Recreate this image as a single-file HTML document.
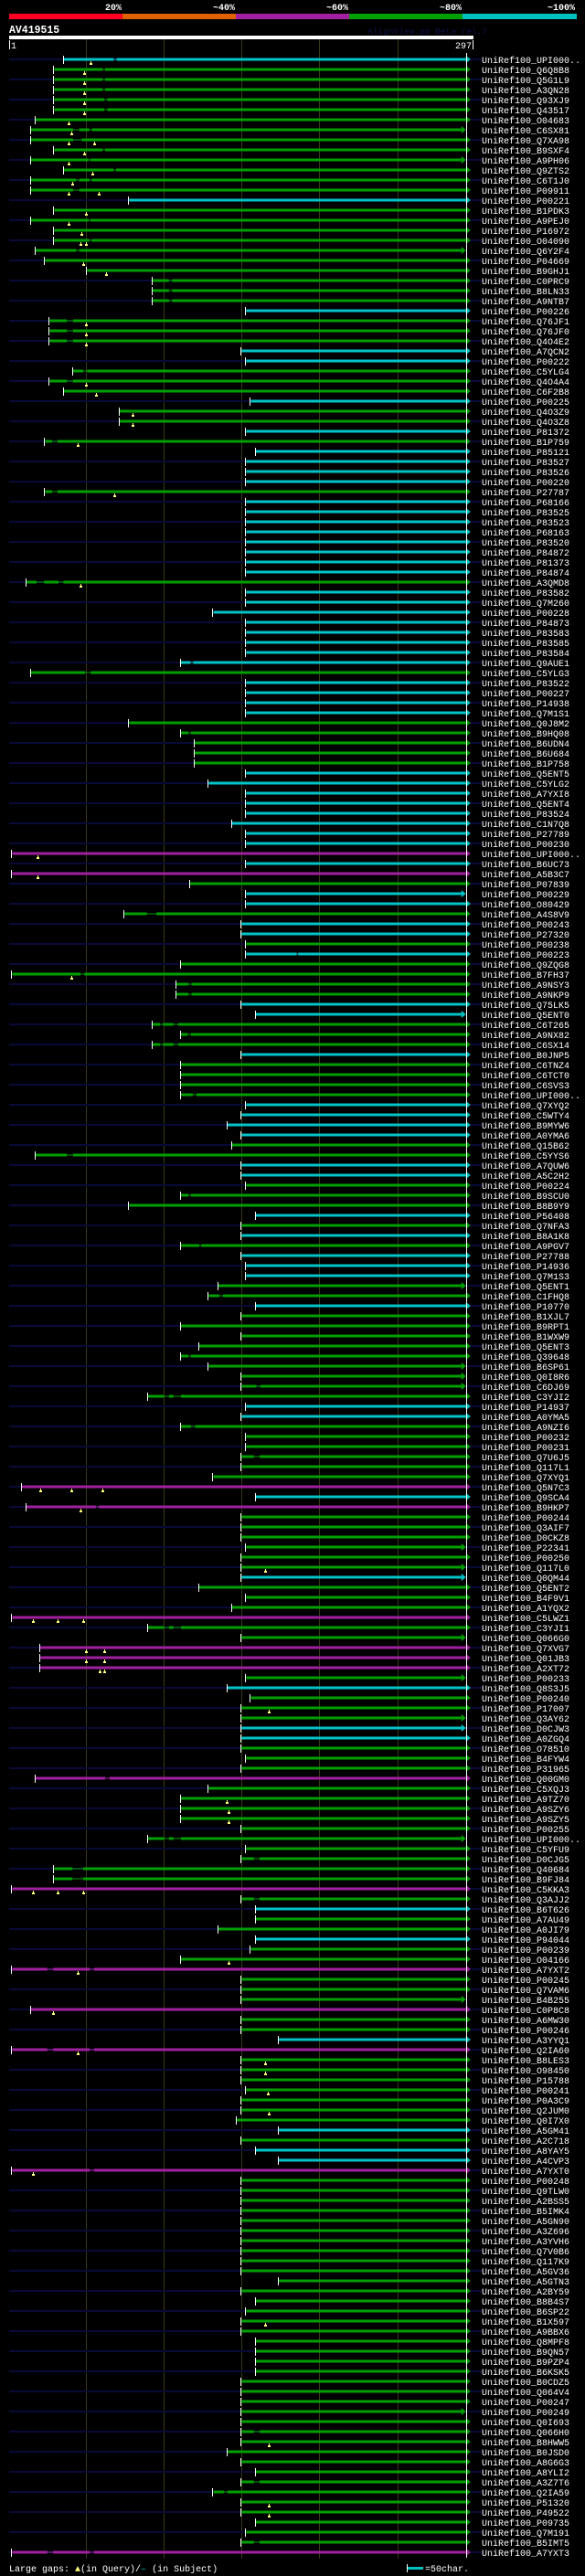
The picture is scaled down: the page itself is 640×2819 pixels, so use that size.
<!DOCTYPE html>
<html><head><meta charset="utf-8"><title>AV419515 alignment</title>
<style>
html,body{margin:0;padding:0;background:#000;}
body{width:640px;height:2819px;overflow:hidden;}
svg{display:block;}
text{font-family:"Liberation Mono",monospace;}
</style></head>
<body>
<svg id="chart" width="640" height="2819" viewBox="0 0 640 2819" xmlns="http://www.w3.org/2000/svg">
  <rect x="0" y="0" width="640" height="2819" fill="#000"/>
  <g>
    <rect x="10" y="15" width="124" height="6" fill="#ff0022"/>
    <rect x="134" y="15" width="124" height="6" fill="#e06000"/>
    <rect x="258" y="15" width="124" height="6" fill="#a020a0"/>
    <rect x="382" y="15" width="124" height="6" fill="#00a000"/>
    <rect x="506" y="15" width="125" height="6" fill="#00c0c0"/>
    <text x="133" y="11" fill="#fff" font-size="10" font-weight="bold" text-anchor="end">20%</text>
    <text x="257" y="11" fill="#fff" font-size="10" font-weight="bold" text-anchor="end">~40%</text>
    <text x="381" y="11" fill="#fff" font-size="10" font-weight="bold" text-anchor="end">~60%</text>
    <text x="505" y="11" fill="#fff" font-size="10" font-weight="bold" text-anchor="end">~80%</text>
    <text x="629" y="11" fill="#fff" font-size="10" font-weight="bold" text-anchor="end">~100%</text>
  </g>
  <text x="10" y="36" fill="#fff" font-size="11.5" font-weight="bold">AV419515</text>
  <text x="402" y="37" fill="#101048" font-size="9.5">AlignView.pm Beta rel.7</text>
  <rect x="10" y="39" width="508" height="4" fill="#fff"/>
  <rect x="10" y="44" width="1" height="10" fill="#fff"/>
  <text x="12" y="53" fill="#fff" font-size="10">1</text>
  <rect x="517" y="44" width="1" height="10" fill="#fff"/>
  <text x="516" y="53" fill="#fff" font-size="10" text-anchor="end">297</text>
  <g id="grid"></g>
  <g id="rows"></g>
  <g>
    <text x="10" y="2814" fill="#fff" font-size="10">Large gaps: <tspan fill="#ffff80">▲</tspan>(in Query)/<tspan fill="#00c0c0">–</tspan> (in Subject)</text>
    <rect x="445" y="2806" width="1" height="9" fill="#fff"/>
    <rect x="446" y="2809" width="17" height="3" fill="#00c0c0"/>
    <text x="465" y="2814" fill="#fff" font-size="10">=50char.</text>
  </g>
</svg>
<script>
const rowNames = [
"UPI000..","Q6Q8B8","Q5G1L9","A3QN28","Q93XJ9","Q43517","O04683","C6SX81","Q7XA98","B9SXF4",
"A9PH06","Q9ZTS2","C6T1J0","P09911","P00221","B1PDK3","A9PEJ0","P16972","O04090","Q6Y2F4",
"P04669","B9GHJ1","C0PRC9","B8LN33","A9NTB7","P00226","Q76JF1","Q76JF0","Q4O4E2","A7QCN2",
"P00222","C5YLG4","Q4O4A4","C6F2B8","P00225","Q4O3Z9","Q4O3Z8","P81372","B1P759","P85121",
"P83527","P83526","P00220","P27787","P68166","P83525","P83523","P68163","P83520","P84872",
"P81373","P84874","A3QMD8","P83582","Q7M260","P00228","P84873","P83583","P83585","P83584",
"Q9AUE1","C5YLG3","P83522","P00227","P14938","Q7M1S1","Q0J8M2","B9HQ08","B6UDN4","B6U684",
"B1P758","Q5ENT5","C5YLG2","A7YXI8","Q5ENT4","P83524","C1N7Q8","P27789","P00230","UPI000..",
"B6UC73","A5B3C7","P07839","P00229","O80429","A4S8V9","P00243","P27320","P00238","P00223",
"Q9ZQG8","B7FH37","A9NSY3","A9NKP9","Q75LK5","Q5ENT0","C6T265","A9NX82","C6SX14","B0JNP5",
"C6TNZ4","C6TCT0","C6SVS3","UPI000..","Q7XYQ2","C5WTY4","B9MYW6","A0YMA6","Q15B62","C5YYS6",
"A7QUW6","A5C2H2","P00224","B9SCU0","B8B9Y9","P56408","Q7NFA3","B8A1K8","A9PGV7","P27788",
"P14936","Q7M1S3","Q5ENT1","C1FHQ8","P10770","B1XJL7","B9RPT1","B1WXW9","Q5ENT3","Q39648",
"B6SP61","Q0I8R6","C6DJ69","C3YJI2","P14937","A0YMA5","A9NZI6","P00232","P00231","Q7U6J5",
"Q117L1","Q7XYQ1","Q5N7C3","Q9SCA4","B9HKP7","P00244","Q3AIF7","D0CKZ8","P22341","P00250",
"Q117L0","Q0QM44","Q5ENT2","B4F9V1","A1YQX2","C5LWZ1","C3YJI1","Q066G0","Q7XVG7","Q01JB3",
"A2XT72","P00233","Q8S3J5","P00240","P17007","Q3AY62","D0CJW3","A0ZGQ4","O78510","B4FYW4",
"P31965","Q00GM0","C5XQJ3","A9TZ70","A9SZY6","A9SZY5","P00255","UPI000..","C5YFU9","D0CJG5",
"Q40684","B9FJ84","C5KKA3","Q3AJJ2","B6T626","A7AU49","A0JI79","P94044","P00239","O04166",
"A7YXT2","P00245","Q7VAM6","B4B255","C0P8C8","A6MW30","P00246","A3YYQ1","Q2IA60","B8LES3",
"O98450","P15788","P00241","P0A3C9","Q2JUM0","Q0I7X0","A5GM41","A2C718","A8YAY5","A4CVP3",
"A7YXT0","P00248","Q9TLW0","A2BSS5","B5IMK4","A5GN90","A3Z696","A3YVH6","Q7V0B6","Q117K9",
"A5GV36","A5GTN3","A2BY59","B8B4S7","B6SP22","B1X597","A9BBX6","Q8MPF8","B9QN57","B9PZP4",
"B6KSK5","B0CDZ5","Q064V4","P00247","P00249","Q0I693","Q066H0","B8HWW5","B0JSD0","A8G6G3",
"A8YLI2","A3Z7T6","Q2IA59","P51320","P49522","P09735","Q7M191","B5IMT5","A7YXT3"];

const rowIdentity = ("cggggggggg"+"ggggcggggg"+"gggggcgggc"+"cgggcggcgc"+"cccgcccccc"+
"ccgccccccc"+"cgccccgggg"+"gccccccccm"+"cmgccgccgc"+"ggggccgggc"+
"ggggccccgg"+"ccgggcgcgc"+"ccggcggggg"+"ggggccgggg"+"ggmcmggggg"+
"gcgggmggmm"+"mgcgggccgg"+"gmgggggggg"+"ggmgcggcgg"+"mgggmggcmg"+
"ggggggcgcc"+"mggggggggg"+"gggggggggg"+"gggggggggg"+"ggggggggm").split("");

const rowStarts = [
36,30,30,30,30,30,18,15,15,30, 15,36,15,15,78,30,15,30,30,18,
24,51,93,93,93,153,27,27,27,150, 153,42,27,36,156,72,72,153,24,159,
153,153,153,24,153,153,153,153,153,153, 153,153,12,153,153,132,153,153,153,153,
111,15,153,153,153,153,78,111,120,120, 120,153,129,153,153,153,144,153,153,3,
153,3,117,153,153,75,150,150,153,153, 111,3,108,108,150,159,93,111,93,150,
111,111,111,111,153,150,141,150,144,18, 150,150,153,111,78,159,150,150,111,150,
153,153,135,129,159,150,111,150,123,111, 129,150,150,90,153,150,111,153,153,150,
150,132,9,159,12,150,150,150,153,150, 150,150,123,153,144,3,90,150,21,21,
21,153,141,156,150,150,150,150,150,153, 150,18,129,111,111,111,150,90,153,150,
30,30,3,150,159,159,135,159,156,111, 3,150,150,150,15,150,150,174,3,150,
150,150,153,150,150,147,174,150,159,174, 3,150,150,150,150,150,150,150,150,150,
150,174,150,159,153,150,150,159,159,159, 159,150,150,150,150,150,150,150,141,150,
159,150,132,150,150,159,153,150,3];

const rowEnds = [
294,294,294,294,294,294,294,291,294,294, 291,294,294,294,294,294,294,294,294,291,
294,294,294,294,294,294,294,294,294,294, 294,294,294,294,294,294,294,294,294,294,
294,294,294,294,294,294,294,294,294,294, 294,294,294,294,294,294,294,294,294,294,
294,294,294,294,294,294,294,294,294,294, 294,294,294,294,294,294,294,294,294,294,
294,294,294,291,294,294,294,294,294,294, 294,294,294,294,294,291,294,294,294,294,
294,294,294,294,294,294,294,294,294,294, 294,294,294,294,294,294,294,294,294,294,
294,294,291,294,294,294,294,294,294,294, 291,291,291,294,294,294,294,294,294,294,
294,294,294,294,294,294,294,294,291,294, 291,291,294,294,294,294,294,291,294,294,
294,291,294,294,294,291,291,294,294,294, 294,294,294,294,294,294,294,291,294,294,
294,294,294,294,294,294,294,294,294,294, 294,294,294,291,294,294,294,294,294,294,
294,294,294,294,294,294,294,294,294,294, 294,294,294,294,294,294,294,294,294,294,
294,294,294,294,294,294,294,294,294,294, 294,294,294,294,291,294,294,294,294,294,
294,294,294,294,294,294,294,294,294];

const gapRows = [0,1,2,3,4,5,7,7,8,9,10,11,12,12,13,16,18,19,22,23,24,26,27,28,32,31,38,43,52,52,60,61,67,85,89,91,92,93,96,96,98,98,97,103,109,113,129,118,123,132,133,133,156,156,177,177,136,139,179,183,236,241,247,144,171,180,181,190,190,198,198,248,248,210,242];
const gapFrom = [68,61,61,61,62,62,42,52.5,42,61,52,68,44,52.5,42,52,52.5,44,103.5,103.5,103.5,38,38,38,38,48.5,28.6,28.6,18.6,32.7,117.3,49.7,116,89.4,185.4,46.8,116,116,97.8,106.4,97.8,106.4,115.5,118.8,38,116,116,122.9,135.8,159.5,100.4,106.4,100.4,106.4,100.4,106.4,117.6,158,158,158,158,158,158,56.6,62.6,41.6,41.6,25.5,52.6,25.5,52.6,25.5,52.6,52.6,138.7];
const gapTo = [70,62.5,62.5,62.5,64,64,46,54,47.5,62.5,53,69.5,46,54,46,53,54,46,105.5,105.5,105.5,42,42,42,42,51,32,32,23.4,35.8,119,53.3,117.6,95.4,186.4,49.2,118,118,99.7,109.5,99.7,109.5,117.6,121.2,42,117.6,117.6,124.2,138.2,162.1,103.5,111.2,103.5,111.2,103.5,111.2,120.4,161.6,161.6,161.6,161.6,161.6,161.6,58.5,65.4,48.5,48.5,29.2,55.4,29.2,55.4,29.2,55.4,55.4,141];

const markerRows = [0,1,2,3,4,5,6,7,8,8,9,10,11,12,13,13,15,16,17,18,18,20,21,26,27,28,32,33,35,36,38,43,52,79,81,91,142,142,142,144,150,155,155,155,182,182,182,158,158,159,159,160,160,164,173,174,175,189,190,198,194,199,200,225,202,204,237,243,244,210];
const markerPos = [53,49,49,49,49,49,39,40.6,39,55.7,49,39,54.5,41.6,39,58.5,50.4,39,47.5,46.7,50.4,48.5,63,50,50,50,50,56.4,80.3,80.3,44.7,68.6,46.7,19.3,19.3,40.6,21.2,40.6,60.5,46.7,165.2,16.4,32.2,48.5,16.4,32.2,48.5,50.4,62.1,50.4,62.1,59.3,62.1,167.7,140.6,141.8,141.8,141.8,45.1,45.1,29.4,165.2,165.2,165.2,167,167.7,167.7,167.7,167.7,16.4];

const colorMap = {c:"#00c4c8", g:"#009f00", m:"#a020a0"};
const NS = "http://www.w3.org/2000/svg";
function xScale(q){ return 10 + (q - 1) * 1.706; }
function yRow(i){ return 65 + i * 11; }
function mk(tag, attrs){ const e = document.createElementNS(NS, tag); for (const k in attrs) e.setAttribute(k, attrs[k]); return e; }

const grid = document.getElementById("grid");
[50,100,150,200,250].forEach(function(q){
  const l = mk("rect", {x: Math.round(xScale(q)), y: 43, width: 1, height: 2757, fill: "#3a3a14"});
  
  
  grid.appendChild(l);
});

const rows = document.getElementById("rows");
for (let i = 0; i < rowNames.length; i++){
  const y = yRow(i);
  const col = colorMap[rowIdentity[i]] || colorMap.g;
  const g = mk("g", {});
  
  
  if (i % 2 === 0){
    const bg = mk("rect", {x: 10, y: y - 1, width: 517, height: 2, fill: "#0a0a38"});
    
    
    g.appendChild(bg);
  }
  const xs = xScale(rowStarts[i]), xe = xScale(rowEnds[i]);
  // split bar by gaps
  const gaps = [];
  for (let k = 0; k < gapRows.length; k++) if (gapRows[k] === i) gaps.push([gapFrom[k], gapTo[k]]);
  gaps.sort(function(a,b){return a[0]-b[0];});
  let cur = xs;
  gaps.forEach(function(gp){
    const a = xScale(gp[0]), b = xScale(gp[1]);
    const seg = mk("rect", {x: cur, y: y - 1.5, width: Math.max(0, a - cur), height: 3, fill: col});
    
    
    g.appendChild(seg);
    const gl = mk("rect", {x: a, y: y - 0.5, width: b - a, height: 1, fill: col});
    
    
    g.appendChild(gl);
    cur = b;
  });
  const last = mk("rect", {x: cur, y: y - 1.5, width: Math.max(0, xe - cur), height: 3, fill: col});
  
  
  g.appendChild(last);
  const arrow = mk("polygon", {points: xe + "," + (y - 4) + " " + (xe + 5) + "," + y + " " + xe + "," + (y + 4), fill: col});
  
  
  g.appendChild(arrow);
  const tick = mk("rect", {x: Math.round(xs) - 1, y: y - 4, width: 1, height: 9, fill: "#fff"});
  
  
  g.appendChild(tick);
  for (let k = 0; k < markerRows.length; k++){
    if (markerRows[k] !== i) continue;
    const mx = Math.round(xScale(markerPos[k]));
    const m1 = mk("rect", {x: mx, y: y + 2, width: 1, height: 2, fill: "#ffff80"});
    
    
    g.appendChild(m1);
    const m2 = mk("rect", {x: mx - 1, y: y + 4, width: 3, height: 2, fill: "#ffff80"});
    
    
    g.appendChild(m2);
  }
  const t = mk("text", {x: 527, y: y + 4, fill: "#fff", "font-size": 10});
  
  
  t.textContent = "UniRef100_" + rowNames[i];
  g.appendChild(t);
  rows.appendChild(g);
}
const endLine = mk("rect", {x: 510, y: 58, width: 1, height: 2741, fill: "#fff"});


rows.appendChild(endLine);
</script>
</body></html>
